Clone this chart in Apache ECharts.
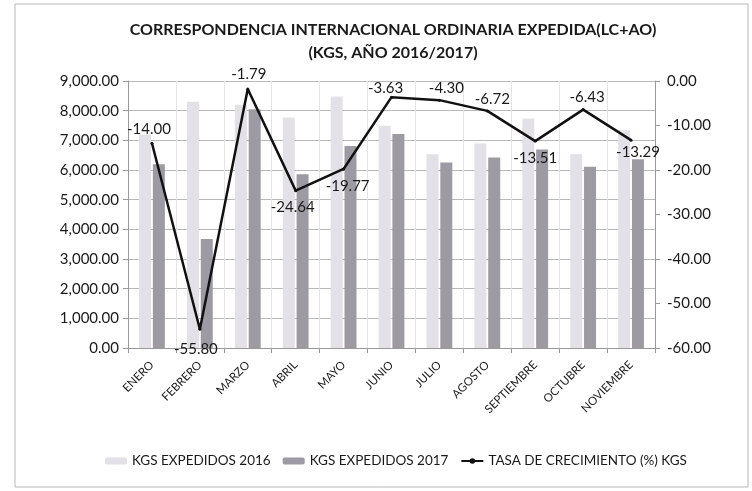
<!DOCTYPE html>
<html><head><meta charset="utf-8">
<script src="https://cdn.jsdelivr.net/npm/echarts@6/dist/echarts.min.js"></script>
<style>html,body{margin:0;padding:0;background:#fff}#c{width:752px;height:491px}</style>
</head><body><div id="c"></div>
<script>
const months = ['ENERO','FEBRERO','MARZO','ABRIL','MAYO','JUNIO','JULIO','AGOSTO','SEPTIEMBRE','OCTUBRE','NOVIEMBRE'];
const kgs2016 = [7200, 8300, 8200, 7770, 8480, 7490, 6530, 6890, 7740, 6530, 7340];
const kgs2017 = [6190, 3670, 8050, 5855, 6810, 7215, 6250, 6425, 6690, 6110, 6365];
const growth = [-14.00, -55.80, -1.79, -24.64, -19.77, -3.63, -4.30, -6.72, -13.51, -6.43, -13.29];
const labelPos = ['top','bottom','top','bottom','bottom','top','top','top','bottom','top','bottom'];
const labelOffset = [[-3,-2],[-4,8],[1,-3],[-3,5],[4,5],[-6,3],[7,0],[5,0],[0,5],[4,0],[7,0]];
const FONT = 'Lato';
const fmt = v => v.toLocaleString('en-US',{minimumFractionDigits:2, maximumFractionDigits:2});

const chart = echarts.init(document.getElementById('c'));
chart.setOption({
  backgroundColor:'#fff',
  animation:false,
  textStyle:{fontFamily:FONT},
  graphic:[{type:'rect', shape:{x:15, y:4, width:733, height:483}, style:{fill:'none', stroke:'#b8b8b8', lineWidth:1}, z:-1}],
  title:{
    text:'CORRESPONDENCIA INTERNACIONAL ORDINARIA EXPEDIDA(LC+AO)\n(KGS, AÑO 2016/2017)',
    left:388, top:13, textAlign:'center',
    textStyle:{fontFamily:FONT, fontSize:16, fontWeight:'bold', color:'#1a1a1a', lineHeight:23}
  },
  legend:{
    left:100, top:449, itemGap:12, itemWidth:22, itemHeight:7,
    textStyle:{fontFamily:FONT, fontSize:13.5, color:'#1a1a1a'},
    data:['KGS EXPEDIDOS 2016','KGS EXPEDIDOS 2017','TASA DE CRECIMIENTO (%) KGS']
  },
  grid:{left:128, right:97, top:81, bottom:143},
  xAxis:{
    type:'category', data:months,
    axisLine:{lineStyle:{color:'#999'}},
    axisTick:{show:true, lineStyle:{color:'#999'}},
    splitLine:{show:true, lineStyle:{color:'#e4e4e4'}},
    axisLabel:{rotate:45, fontSize:11.5, color:'#1a1a1a', margin:15, interval:0}
  },
  yAxis:[{
    type:'value', min:0, max:9000, interval:1000,
    axisLine:{show:true, lineStyle:{color:'#999'}},
    axisTick:{show:true, lineStyle:{color:'#999'}},
    splitLine:{lineStyle:{color:'#b8b8b8'}},
    axisLabel:{fontSize:15, color:'#1a1a1a', formatter:v=>fmt(v), margin:9}
  },{
    type:'value', min:-60, max:0, interval:10,
    axisLine:{show:true, lineStyle:{color:'#999'}},
    axisTick:{show:true, lineStyle:{color:'#999'}},
    splitLine:{show:false},
    axisLabel:{fontSize:15, color:'#1a1a1a', formatter:v=>fmt(v), margin:12}
  }],
  series:[{
    name:'KGS EXPEDIDOS 2016', type:'bar', data:kgs2016,
    barWidth:12, barGap:'15%',
    itemStyle:{color:'#e3e0e8'}
  },{
    name:'KGS EXPEDIDOS 2017', type:'bar', data:kgs2017,
    barWidth:12,
    itemStyle:{color:'#9d9aa4'}
  },{
    name:'TASA DE CRECIMIENTO (%) KGS', type:'line', yAxisIndex:1,
    data:growth.map((v,i)=>({value:v, label:{position:labelPos[i], offset:labelOffset[i]}})),
    symbol:'circle', symbolSize:3, showSymbol:true,
    lineStyle:{color:'#111', width:2.5},
    itemStyle:{color:'#111'},
    label:{show:true, fontSize:15, color:'#1a1a1a', formatter:p=>p.value.toFixed(2), distance:3}
  }]
});
</script></body></html>
